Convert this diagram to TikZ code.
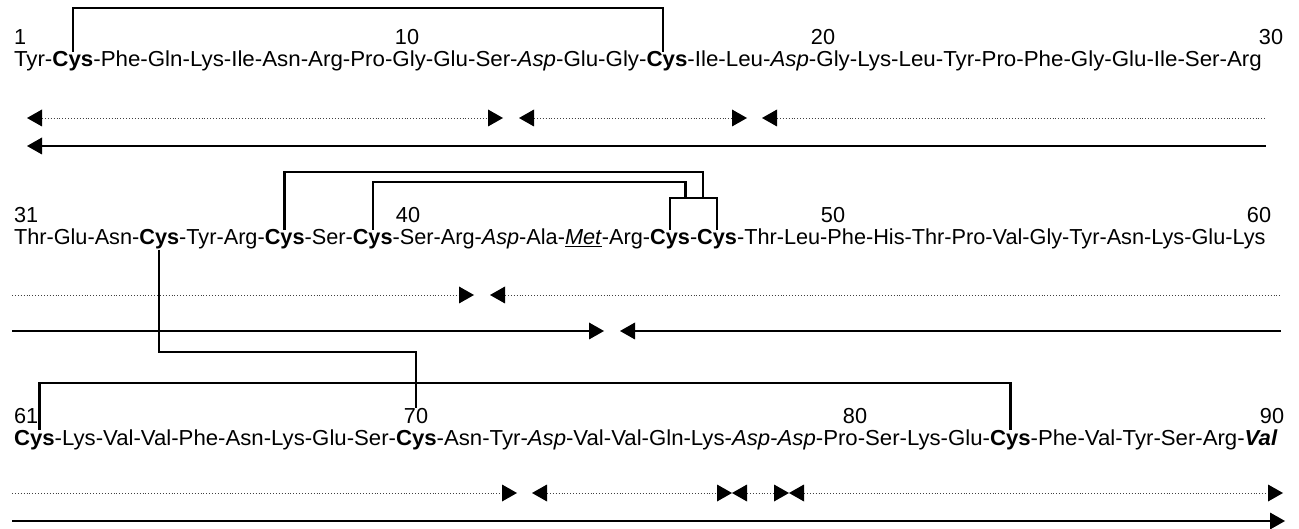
\documentclass[tikz,border=0pt]{standalone}
\usepackage{fontspec}
\setmainfont{Liberation Sans}
\newfontfamily\fA[FakeStretch=1.028]{Liberation Sans}
\newfontfamily\fB{Liberation Sans}
\newfontfamily\fC[FakeStretch=1.022]{Liberation Sans}
\usetikzlibrary{arrows.meta,calc}
\newcommand\seqsize{\fontsize{21.7}{26}\selectfont}
\newcommand\seqrow[4]{%
  \foreach \t [count=\i from #2] in {#3} {%
    \ifnum\i=#2\relax
      \node[res,font=#4\seqsize] (r\i) at (#1) {\t};
    \else
      \pgfmathtruncatemacro\j{\i-1}%
      \node[res,font=#4\seqsize] (h\i) at (r\j.base east) {-};
      \node[res,font=#4\seqsize] (r\i) at (h\i.base east) {\t};
    \fi
  }}
\begin{document}
\begin{tikzpicture}[x=1pt,y=-1pt,
  res/.style={anchor=base west,inner sep=0pt,outer sep=0pt},
  num/.style={anchor=base,inner sep=0pt,outer sep=0pt,font=\fB\seqsize},
  bridge/.style={line width=2.4pt,line join=miter},
  dotl/.style={dotted,line width=0.9pt,black!75},
  soll/.style={line width=1.3pt},
  >={Triangle[length=15pt,width=17pt,black,line width=0pt]}]
\useasboundingbox[fill=white] (0,0) rectangle (1299,529);

% ---------- row 1 ----------
\coordinate (s1) at (14,67);
\seqrow{s1}{1}{Tyr,\textbf{Cys},Phe,Gln,Lys,Ile,Asn,Arg,Pro,Gly,Glu,Ser,\textit{Asp},Glu,Gly,\textbf{Cys},Ile,Leu,\textit{Asp},Gly,Lys,Leu,Tyr,Pro,Phe,Gly,Glu,Ile,Ser,Arg}{\fA}
\node[num,anchor=base west] (n1) at (14,45) {1};
\node[num] (n10) at (407,45) {10};
\node[num] (n20) at (823,45) {20};
\node[num] (n30) at (1271,45) {30};

% ---------- row 2 ----------
\coordinate (s2) at (14,245);
\seqrow{s2}{31}{Thr,Glu,Asn,\textbf{Cys},Tyr,Arg,\textbf{Cys},Ser,\textbf{Cys},Ser,Arg,\textit{Asp},Ala,\underline{\textit{Met}},Arg,\textbf{Cys},\textbf{Cys},Thr,Leu,Phe,His,Thr,Pro,Val,Gly,Tyr,Asn,Lys,Glu,Lys}{\fB}
\node[num,anchor=base west] (n31) at (14,223) {31};
\node[num] (n40) at (408,223) {40};
\node[num] (n50) at (833,223) {50};
\node[num] (n60) at (1259,223) {60};

% ---------- row 3 ----------
\coordinate (s3) at (14,445);
\seqrow{s3}{61}{\textbf{Cys},Lys,Val,Val,Phe,Asn,Lys,Glu,Ser,\textbf{Cys},Asn,Tyr,\textit{Asp},Val,Val,Gln,Lys,\textit{Asp},\textit{Asp},Pro,Ser,Lys,Glu,\textbf{Cys},Phe,Val,Tyr,Ser,Arg,\textbf{\textit{Val}}}{\fC}
\node[num,anchor=base west] (n61) at (14,423) {61};
\node[num] (n70) at (416,423) {70};
\node[num] (n80) at (855,423) {80};
\node[num] (n90) at (1272,423) {90};

% ---------- disulfide bridges ----------
\coordinate (yT) at (0,8);
\coordinate (yA) at (0,172);
\coordinate (yB) at (0,182);
\coordinate (yC) at (0,198);
\coordinate (yD) at (0,352);
\coordinate (yE) at (0,383);
\coordinate (xo) at ($(r46.north)!0.7!(r47.north)$);
\coordinate (xi) at ($(r46.north)!0.33!(r47.north)$);
\coordinate (c61) at ($(r61.north)+(5,0)$);
\coordinate (c16) at ($(r16.north)+(-4,0)$);
\draw[bridge] (r2.north) -- (r2.north |- yT) -- (c16 |- yT) -- (c16);
\draw[bridge] (r37.north) -- (r37.north |- yA) -- (xo |- yA) -- (xo |- yC);
\draw[bridge] (r39.north) -- (r39.north |- yB) -- (xi |- yB) -- (xi |- yC);
\draw[bridge] (r46.north) -- (r46.north |- yC) -- (r47.north |- yC) -- (r47.north);
\draw[bridge] (r34.south) -- (r34.south |- yD) -| (n70.north);
\draw[bridge] (c61) -- (c61 |- yE) -- (r84.north |- yE) -- (r84.north);

% ---------- arrow rows ----------
% row 1
\coordinate (a1) at (27,118);  \coordinate (a2) at (503,118);
\coordinate (a3) at (519,118); \coordinate (a4) at (747,118);
\coordinate (a5) at (762,118); \coordinate (a6) at (1266,118);
\draw[dotl,<->] (a1) -- (a2);
\draw[dotl,<->] (a3) -- (a4);
\draw[dotl,<-] (a5) -- (a6);
\coordinate (b1) at (27,146); \coordinate (b2) at (1266,146);
\draw[soll,<-] (b1) -- (b2);
% row 2
\coordinate (c1) at (12,295);  \coordinate (c2) at (474,295);
\coordinate (c3) at (490,295); \coordinate (c4) at (1281,295);
\draw[dotl,->] (c1) -- (c2);
\draw[dotl,<-] (c3) -- (c4);
\coordinate (e1) at (12,331);  \coordinate (e2) at (604,331);
\coordinate (e3) at (620,331); \coordinate (e4) at (1281,331);
\draw[soll,->] (e1) -- (e2);
\draw[soll,<-] (e3) -- (e4);
% row 3
\coordinate (f1) at (12,493);  \coordinate (f2) at (517,493);
\coordinate (f3) at (532,493); \coordinate (f4) at (732,493);
\coordinate (f5) at (789,493); \coordinate (f6) at (1283,493);
\draw[dotl,->] (f1) -- (f2);
\draw[dotl,<->] (f3) -- (f4);
\draw[dotl,<->] (f4) -- (f5);
\draw[dotl,<->] (f5) -- (f6);
\coordinate (g1) at (12,521); \coordinate (g2) at (1285,521);
\draw[soll,->] (g1) -- (g2);
\end{tikzpicture}
\end{document}
